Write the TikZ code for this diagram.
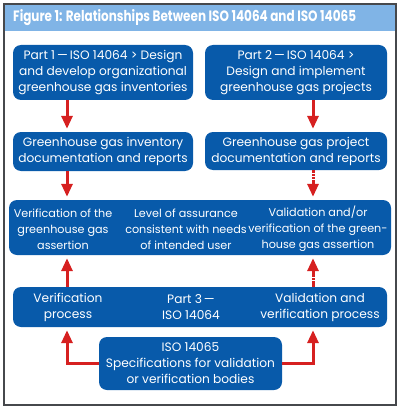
\documentclass[tikz,border=0pt]{standalone}
\usepackage{fontspec}
\setmainfont{Poppins}
\usetikzlibrary{arrows.meta}

\definecolor{isoblue}{RGB}{8,90,170}
\definecolor{isored}{RGB}{214,32,32}
\definecolor{titlebar}{RGB}{128,180,230}
\definecolor{framegray}{RGB}{70,72,76}

\tikzset{
    box/.style={fill=isoblue, rounded corners=8pt, inner sep=0pt},
    boxtext/.style={text=white, align=center, inner sep=0pt,
        font=\fontsize{12.2}{16}\selectfont},
    smalltext/.style={boxtext, font=\fontsize{11.2}{16}\selectfont},
    redarrow/.style={draw=isored, line width=3pt,
        -{Triangle[width=11pt,length=13pt]}, shorten >=3pt},
    dashedarrow/.style={redarrow, dash pattern=on 2.5pt off 0.8pt},
}

\begin{document}
\begin{tikzpicture}[x=1pt,y=-1pt]
    \useasboundingbox (0,0) rectangle (400,409);
    % frame and title
    \path [fill=titlebar] (5,5) rectangle (395,31);
    \draw [framegray, line width=1.5pt] (4,4) rectangle (396,405);
    \path (13,18) node [anchor=west, text=white, inner sep=0pt] (title)
        {\scalebox{0.8}[1]{\fontsize{15}{15}\selectfont\bfseries Figure 1: Relationships Between ISO 14064 and ISO 14065}};
    % columns for the arrows
    \coordinate (lcol) at (67,0);
    \coordinate (rcol) at (313,0);
    % top row
    \path (103,72.5) node [box, minimum width=180pt, minimum height=55pt] (p1) {};
    \path (p1) node [boxtext] {Part 1\,—\,ISO 14064 > Design\\and develop organizational\\greenhouse gas inventories};
    \path (296,72.5) node [box, minimum width=182pt, minimum height=55pt] (p2) {};
    \path (p2) node [boxtext] {Part 2\,—\,ISO 14064 >\\Design and implement\\greenhouse gas projects};
    % documentation row
    \path (103,151.5) node [box, minimum width=180pt, minimum height=39pt] (invdoc) {};
    \path (invdoc) node [boxtext] {Greenhouse gas inventory\\documentation and reports};
    \path (296,151) node [box, minimum width=182pt, minimum height=38pt] (projdoc) {};
    \path (projdoc) node [boxtext] {Greenhouse gas project\\documentation and reports};
    \draw [redarrow] (p1.south -| lcol) -- (invdoc.north -| lcol);
    \draw [redarrow] (p2.south -| rcol) -- (projdoc.north -| rcol);
    % assertion row
    \path (200,227.5) node [box, minimum width=382pt, minimum height=55pt] (assert) {};
    \path (63,229) node [smalltext] (verif) {Verification of the\\greenhouse gas\\assertion};
    \path (186,229) node [smalltext] (assur) {Level of assurance\\consistent with needs\\of intended user};
    \path (318,229) node [smalltext] (valid) {Validation and/or\\verification of the green-\\house gas assertion};
    \draw [redarrow] (invdoc.south -| lcol) -- (assert.north -| lcol);
    \draw [dashedarrow] (projdoc.south -| rcol) -- (assert.north -| rcol);
    % part 3 row
    \path (200,307) node [box, minimum width=374pt, minimum height=40pt] (p3) {};
    \path (68,307) node [boxtext] (vproc) {Verification\\process};
    \path (191,307) node [boxtext] (p3txt) {Part 3\,—\\ISO 14064};
    \path (320,307) node [boxtext] (vvproc) {Validation and\\verification process};
    \draw [redarrow] (p3.north -| lcol) -- (assert.south -| lcol);
    \draw [dashedarrow] (p3.north -| rcol) -- (assert.south -| rcol);
    % ISO 14065
    \path (190.5,363.5) node [box, minimum width=183pt, minimum height=53pt] (iso65) {};
    \path (iso65) node [boxtext] {ISO 14065\\Specifications for validation\\or verification bodies};
    \draw [redarrow] (iso65.west) -| (p3.south -| lcol);
    \draw [redarrow] (iso65.east) -| (p3.south -| rcol);
\end{tikzpicture}
\end{document}
